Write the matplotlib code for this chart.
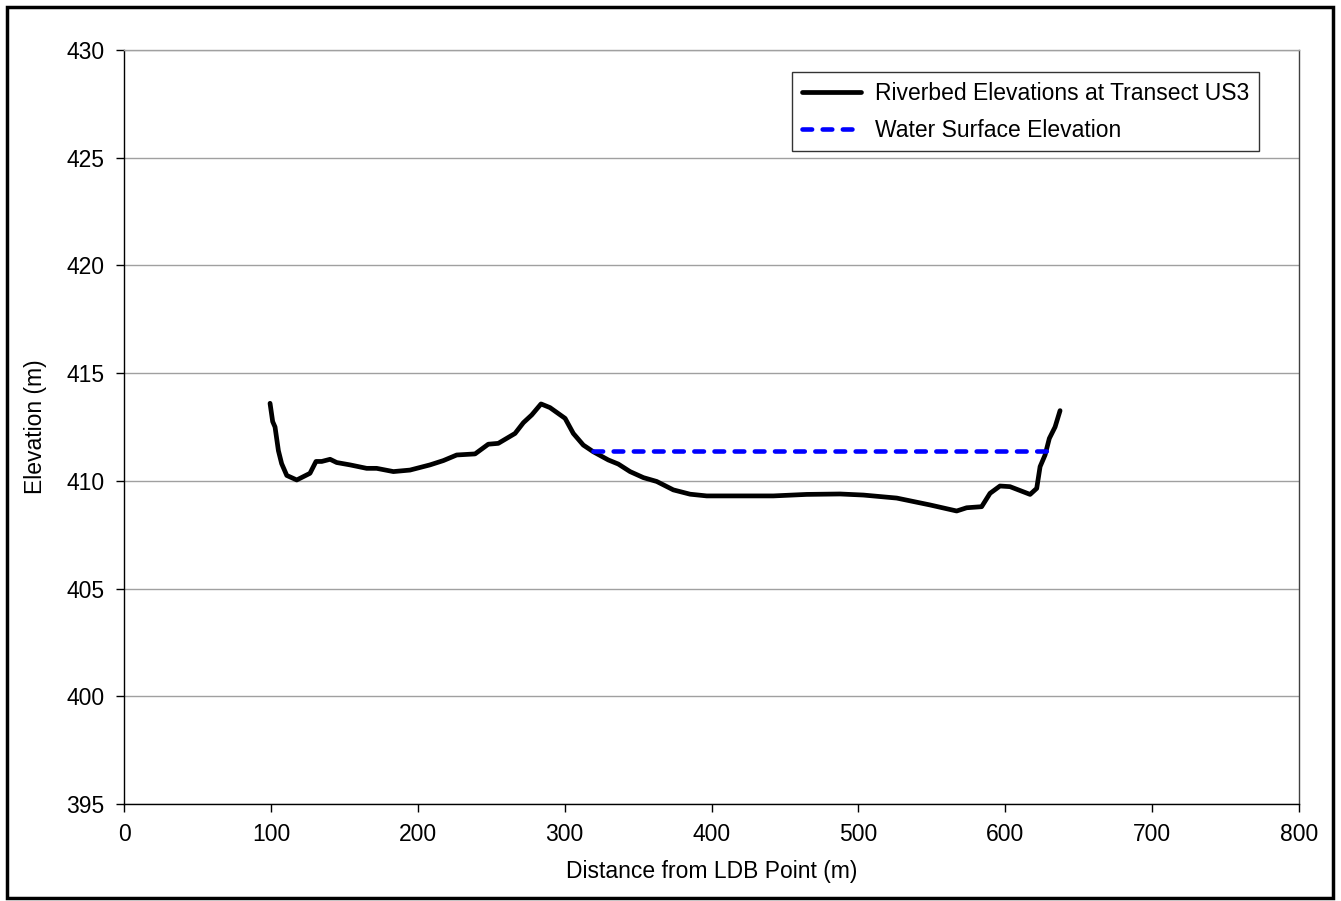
import matplotlib
matplotlib.use("Agg")
import matplotlib.pyplot as plt
from matplotlib.patches import Rectangle

plt.rcParams["font.family"] = ["Liberation Sans", "DejaVu Sans"]

# Riverbed profile at transect US3
dist = [99.4, 101.2, 102.8, 105.1, 107.3, 110.8, 117.6, 126.6, 130.7, 134.6,
        140.3, 144.8, 153.9, 165.2, 172.0, 183.4, 194.7, 208.3, 217.4, 226.5,
        239.0, 248.0, 254.8, 266.2, 271.9, 277.6, 283.9, 290.0, 300.3, 305.9,
        312.7, 319.5, 329.7, 336.5, 344.5, 353.6, 362.7, 374.0, 385.4, 396.7,
        419.4, 442.1, 464.8, 487.5, 503.4, 526.1, 548.8, 566.9, 573.7, 583.9,
        589.6, 596.4, 603.2, 616.9, 621.4, 623.7, 627.1, 630.0, 633.9, 637.3]
elev = [413.6, 412.75, 412.5, 411.4, 410.8, 410.25, 410.04, 410.35, 410.9, 410.9,
        411.0, 410.85, 410.74, 410.58, 410.58, 410.43, 410.5, 410.74, 410.94, 411.2,
        411.25, 411.7, 411.74, 412.2, 412.7, 413.06, 413.57, 413.4, 412.9, 412.2,
        411.66, 411.35, 410.97, 410.78, 410.43, 410.15, 409.97, 409.58, 409.38, 409.3,
        409.3, 409.3, 409.37, 409.39, 409.34, 409.2, 408.88, 408.6, 408.75, 408.8,
        409.42, 409.76, 409.73, 409.37, 409.65, 410.66, 411.2, 411.97, 412.5, 413.26]

# Water surface
ws_dist = [319.5, 628.2]
ws_elev = [411.4, 411.4]

fig = plt.figure(figsize=(13.41, 9.01), dpi=100)
ax = fig.add_axes([0.0925, 0.1077, 0.8762, 0.8368])

ax.plot(dist, elev, color="black", lw=3.4, label="Riverbed Elevations at Transect US3",
        solid_joinstyle="round", solid_capstyle="round", zorder=3)
ax.plot(ws_dist, ws_elev, color="#0000ff", lw=3.3, linestyle=(0, (2.1, 2.3)),
        dash_capstyle="round", label="Water Surface Elevation", zorder=3)

ax.set_xlim(0, 800)
ax.set_ylim(395, 430)
ax.set_xticks(range(0, 801, 100))
ax.set_yticks(range(395, 431, 5))
ax.yaxis.grid(True, color="#a0a0a0", lw=1.0)
ax.set_axisbelow(True)

for side in ["left", "bottom"]:
    ax.spines[side].set_color("black")
    ax.spines[side].set_linewidth(1.0)
ax.spines["right"].set_color("#404040")
ax.spines["right"].set_linewidth(1.0)
ax.spines["top"].set_color("#a0a0a0")
ax.spines["top"].set_linewidth(1.0)

ax.tick_params(direction="out", length=6, width=1, labelsize=16.5, pad=8)
ax.set_xlabel("Distance from LDB Point (m)", fontsize=16.5, labelpad=10)
ax.set_ylabel("Elevation (m)", fontsize=16.5, labelpad=14)

leg = ax.legend(loc="upper right", bbox_to_anchor=(0.966, 0.9708), fontsize=16.5,
                frameon=True, fancybox=False, edgecolor="black", handlelength=2.6,
                borderpad=0.42, labelspacing=0.62, handletextpad=0.6,
                borderaxespad=0.0)
leg.get_frame().set_linewidth(1.0)

# outer frame around the whole chart
fig.patches.append(Rectangle((0.005, 0.003), 0.989, 0.989, transform=fig.transFigure,
                             fill=False, edgecolor="black", lw=2.5))

fig.savefig("out.png", dpi=100)
